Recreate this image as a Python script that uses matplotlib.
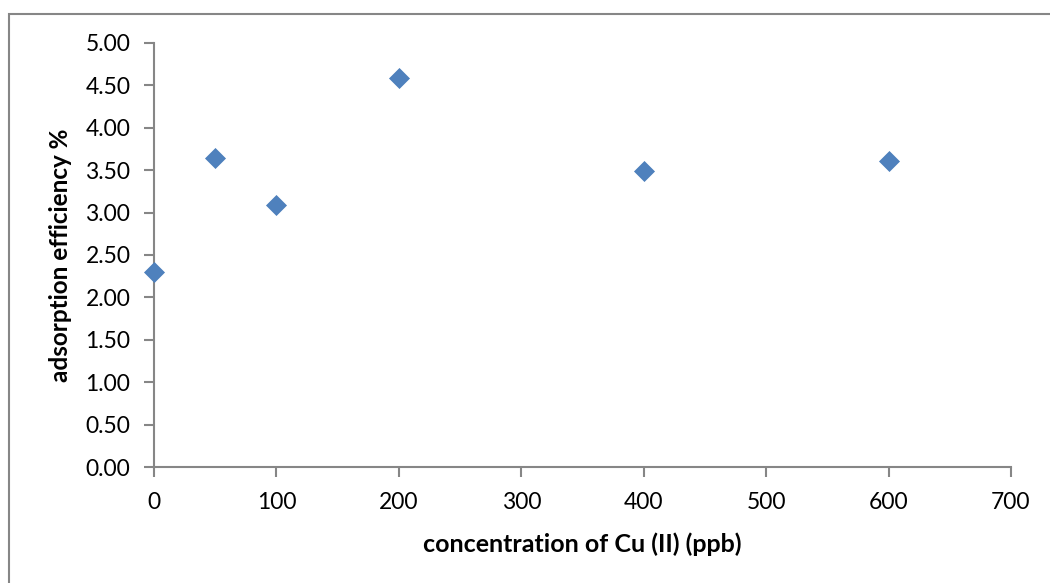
import matplotlib.pyplot as plt
from matplotlib.patches import Rectangle

# data
conc = [0, 50, 100, 200, 400, 600]
efficiency = [2.30, 3.64, 3.09, 4.59, 3.49, 3.61]
yticks = [0.0, 0.5, 1.0, 1.5, 2.0, 2.5, 3.0, 3.5, 4.0, 4.5, 5.0]
xticks = [0, 100, 200, 300, 400, 500, 600, 700]

plt.rcParams['font.family'] = ['Lato', 'DejaVu Sans']
grey = '#868686'

fig = plt.figure(figsize=(10.5, 5.83), dpi=100)
ax = fig.add_axes([154/1050, 1-467/583, (1011-154)/1050, (467-43)/583])

# outer chart border (cut off on right / bottom)
fig.patches.append(Rectangle((8.5/1050, -0.1), 1.2, 1 - 13.5/583 + 0.1,
                             transform=fig.transFigure, fill=False,
                             edgecolor=grey, linewidth=1.5))

ax.plot(conc, efficiency, linestyle='none', marker='D', markersize=10,
        color='#4F81BD', markeredgecolor='#4A7EBB', markeredgewidth=0.5,
        clip_on=False, zorder=3)

ax.set_xlim(0, 700)
ax.set_ylim(0, 5)
ax.set_xticks(xticks)
ax.set_yticks(yticks)
ax.set_yticklabels(['%.2f' % v for v in yticks])

for s in ['top', 'right']:
    ax.spines[s].set_visible(False)
for s in ['left', 'bottom']:
    ax.spines[s].set_color(grey)
    ax.spines[s].set_linewidth(1.5)

ax.tick_params(axis='both', direction='out', length=7, width=1.5, color=grey,
               labelsize=16.5, labelcolor='black')
ax.tick_params(axis='y', pad=10)
ax.tick_params(axis='x', pad=11)

ax.set_xlabel('concentration of Cu (II) (ppb)', fontsize=18, fontweight='bold',
              labelpad=14)
ax.set_ylabel('adsorption efficiency %', fontsize=17.5, fontweight='bold',
              labelpad=10)

fig.savefig('out.png', dpi=100)
